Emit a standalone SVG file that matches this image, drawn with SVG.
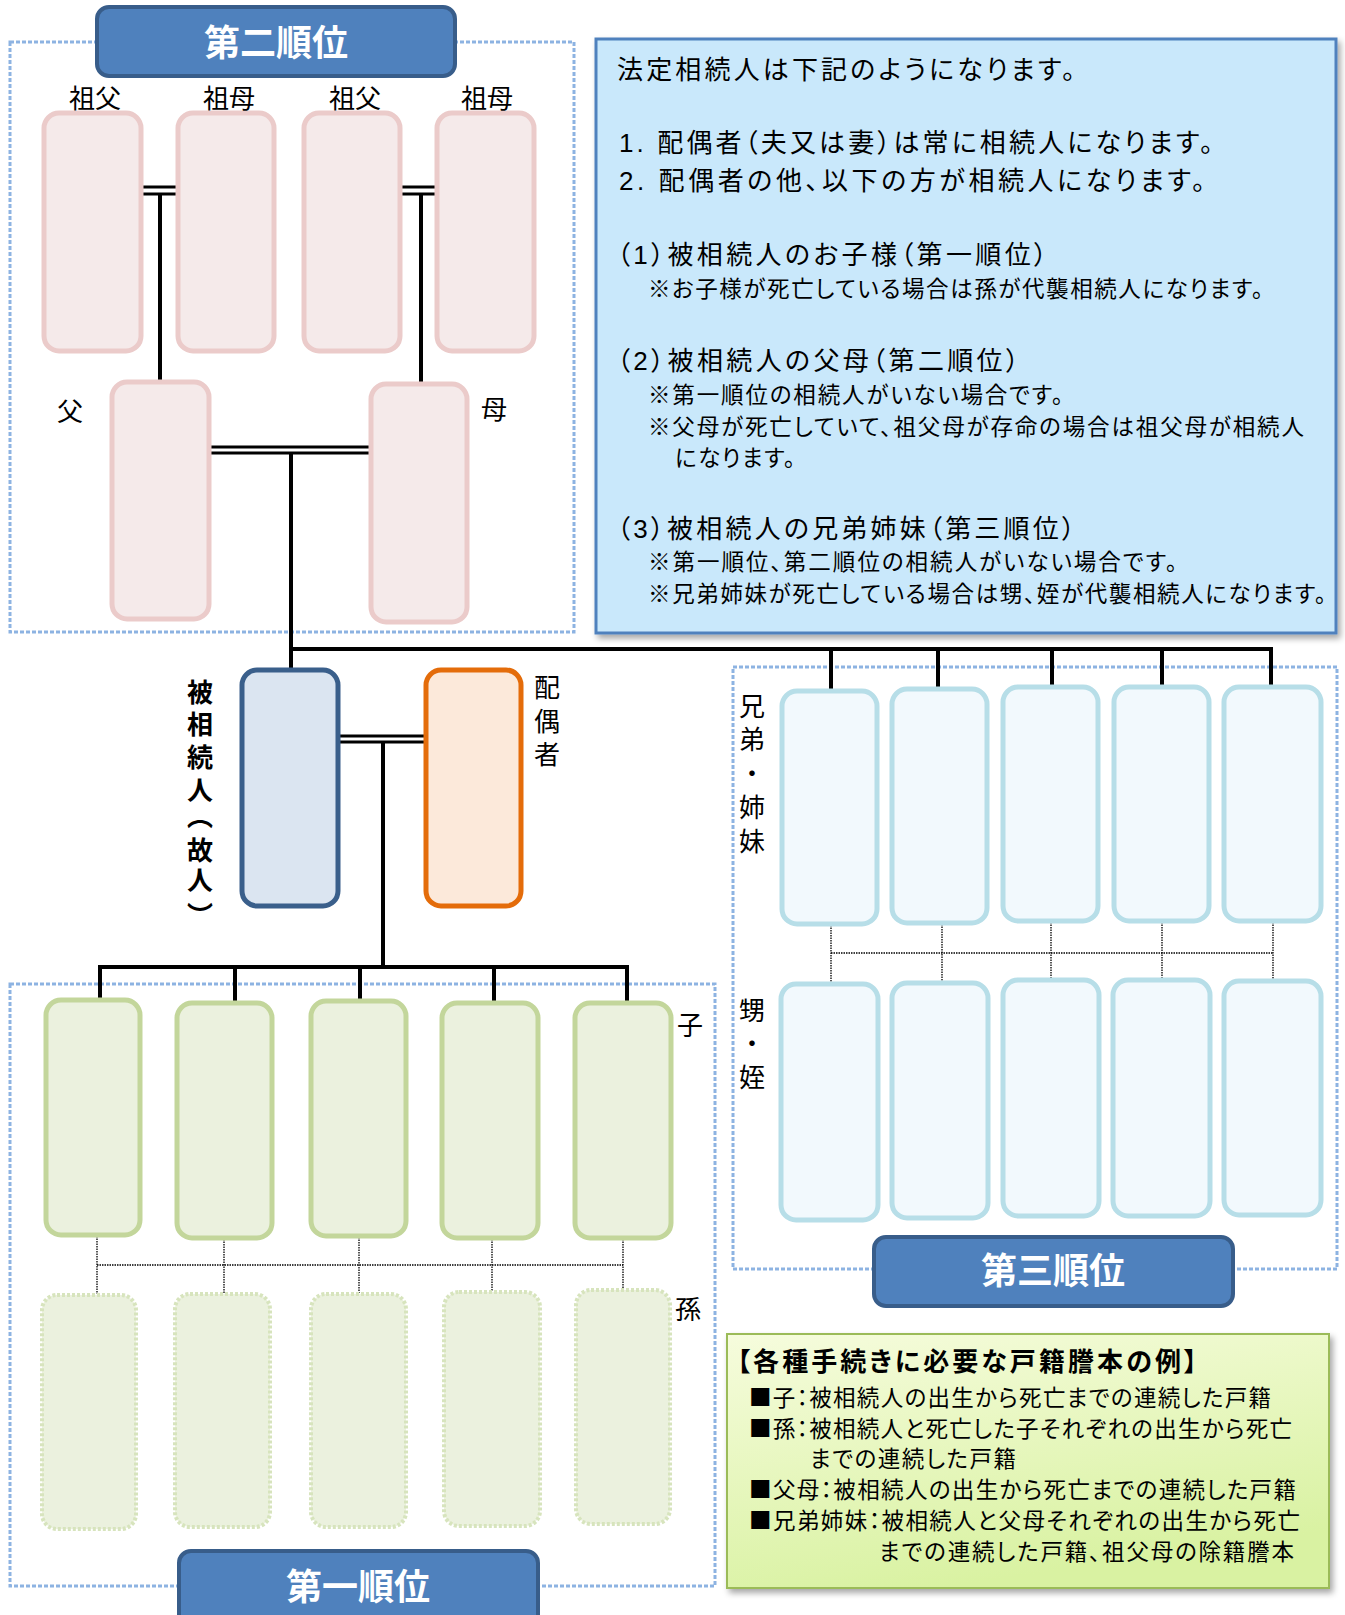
<svg xmlns="http://www.w3.org/2000/svg" width="1345" height="1615" viewBox="0 0 1345 1615">
<defs>
<style>
text{font-family:"Liberation Sans","Noto Sans CJK JP",sans-serif;fill:#000;font-feature-settings:"palt"}
.frame{fill:none;stroke:#8DB3E2;stroke-width:3;stroke-dasharray:4 2}
.banner{fill:#4F81BD;stroke:#385D8A;stroke-width:4}
.bt{fill:#fff;font-size:36px;font-weight:bold;text-anchor:middle;font-family:"Noto Sans CJK JP",sans-serif}
.pink{fill:#F5EAEA;stroke:#EBCBCA;stroke-width:5}
.dec{fill:#DBE5F1;stroke:#3A5F8B;stroke-width:5}
.sp{fill:#FCE9DA;stroke:#E46C0A;stroke-width:5}
.sib{fill:#F2F9FD;stroke:#B7DEE8;stroke-width:5}
.ch{fill:#EBF1DE;stroke:#C3D69B;stroke-width:5}
.gc{fill:#EBF1DE;stroke:#D7E4BD;stroke-width:4;stroke-dasharray:3 2}
.ln{stroke:#000;stroke-width:4;fill:none}
.dl{stroke:#000;stroke-width:3;fill:none}
.dt{stroke:#000;stroke-width:1.3;stroke-dasharray:1.5 1;fill:none}
.lbl{font-size:26px;text-anchor:middle;font-family:"Noto Sans CJK JP",sans-serif;font-feature-settings:normal}
.t1{font-size:26px}
.t2{font-size:22.5px}
.g{font-size:22.5px;font-family:"Noto Sans CJK JP",sans-serif}
</style>
<filter id="sh" x="-5%" y="-5%" width="115%" height="115%">
<feDropShadow dx="3" dy="4" stdDeviation="3" flood-color="#000" flood-opacity="0.35"/>
</filter>
<linearGradient id="gg" x1="0" y1="0" x2="0.35" y2="1">
<stop offset="0" stop-color="#F6FCDD"/>
<stop offset="1" stop-color="#D9F2A2"/>
</linearGradient>
</defs>
<rect width="1345" height="1615" fill="#fff"/>

<g id="frames">
<rect class="frame" x="10" y="42" width="564" height="590"/>
<rect class="frame" x="10" y="984" width="705" height="602"/>
<rect class="frame" x="733" y="667" width="604" height="602"/>
</g>

<g id="connectors">
<line class="dl" x1="141" y1="187" x2="178" y2="187"/>
<line class="dl" x1="141" y1="194" x2="178" y2="194"/>
<line class="ln" x1="160" y1="194" x2="160" y2="382"/>
<line class="dl" x1="400" y1="187" x2="437" y2="187"/>
<line class="dl" x1="400" y1="194" x2="437" y2="194"/>
<line class="ln" x1="421" y1="194" x2="421" y2="384"/>
<line class="dl" x1="209" y1="447" x2="371" y2="447"/>
<line class="dl" x1="209" y1="453" x2="371" y2="453"/>
<line class="ln" x1="291" y1="453" x2="291" y2="669"/>
<path class="ln" d="M291,649 H1271 V688"/>
<line class="ln" x1="831" y1="649" x2="831" y2="690"/>
<line class="ln" x1="938" y1="649" x2="938" y2="688"/>
<line class="ln" x1="1052" y1="649" x2="1052" y2="686"/>
<line class="ln" x1="1162" y1="649" x2="1162" y2="686"/>
<line class="dl" x1="337" y1="736" x2="427" y2="736"/>
<line class="dl" x1="337" y1="742" x2="427" y2="742"/>
<line class="ln" x1="383" y1="742" x2="383" y2="967"/>
<path class="ln" d="M100,999 V967 H627 V1002"/>
<line class="ln" x1="235" y1="967" x2="235" y2="1002"/>
<line class="ln" x1="360" y1="967" x2="360" y2="1000"/>
<line class="ln" x1="494" y1="967" x2="494" y2="1002"/>
<line class="dt" x1="97" y1="1236" x2="97" y2="1294"/>
<line class="dt" x1="224" y1="1239" x2="224" y2="1293"/>
<line class="dt" x1="359" y1="1237" x2="359" y2="1293"/>
<line class="dt" x1="492" y1="1239" x2="492" y2="1291"/>
<line class="dt" x1="623" y1="1239" x2="623" y2="1289"/>
<line class="dt" x1="97" y1="1265" x2="623" y2="1265"/>
<line class="dt" x1="831" y1="925" x2="831" y2="983"/>
<line class="dt" x1="942" y1="924" x2="942" y2="982"/>
<line class="dt" x1="1051" y1="922" x2="1051" y2="979"/>
<line class="dt" x1="1162" y1="922" x2="1162" y2="979"/>
<line class="dt" x1="1273" y1="922" x2="1273" y2="980"/>
<line class="dt" x1="831" y1="953" x2="1273" y2="953"/>
</g>

<g id="banner2"><rect class="banner" x="97" y="7" width="358" height="69" rx="12"/><text class="bt" x="276" y="56">第二順位</text></g>
<g id="banner3"><rect class="banner" x="874" y="1237" width="359" height="69" rx="12"/><text class="bt" x="1053" y="1284">第三順位</text></g>
<g id="banner1"><rect class="banner" x="179" y="1551" width="359" height="80" rx="12"/><text class="bt" x="358" y="1600">第一順位</text></g>

<g id="grandparents">
<rect class="pink" x="44" y="113" width="97" height="238" rx="15"/>
<rect class="pink" x="178" y="113" width="96" height="238" rx="15"/>
<rect class="pink" x="304" y="113" width="96" height="238" rx="15"/>
<rect class="pink" x="437" y="113" width="97" height="238" rx="15"/>
<text class="lbl" x="95" y="108">祖父</text>
<text class="lbl" x="229" y="108">祖母</text>
<text class="lbl" x="355" y="108">祖父</text>
<text class="lbl" x="487" y="108">祖母</text>
</g>
<g id="father"><rect class="pink" x="112" y="382" width="97" height="237" rx="15"/><text class="lbl" x="70" y="421">父</text></g>
<g id="mother"><rect class="pink" x="371" y="384" width="96" height="238" rx="15"/><text class="lbl" x="494" y="419">母</text></g>

<g id="decedent">
<rect class="dec" x="242" y="670" width="96" height="236" rx="15"/>
<text class="lbl" font-weight="bold" x="200 200 200 200 200 200 200 200" y="702 734 767 800 826 860 890 925">被相続人︵故人︶</text>
</g>
<g id="spouse">
<rect class="sp" x="426" y="670" width="95" height="236" rx="15"/>
<text class="lbl" x="547 547 547" y="697 731 764">配偶者</text>
</g>

<g id="siblings">
<rect class="sib" x="782" y="691" width="95" height="233" rx="15"/>
<rect class="sib" x="892" y="689" width="95" height="234" rx="15"/>
<rect class="sib" x="1003" y="687" width="95" height="234" rx="15"/>
<rect class="sib" x="1114" y="687" width="95" height="234" rx="15"/>
<rect class="sib" x="1224" y="687" width="97" height="234" rx="15"/>
<text class="lbl" x="752 752 752 752 752" y="716 749 783 817 851">兄弟・姉妹</text>
</g>
<g id="nephews">
<rect class="sib" x="781" y="984" width="97" height="236" rx="15"/>
<rect class="sib" x="892" y="983" width="96" height="235" rx="15"/>
<rect class="sib" x="1003" y="980" width="96" height="236" rx="15"/>
<rect class="sib" x="1113" y="980" width="97" height="236" rx="15"/>
<rect class="sib" x="1224" y="981" width="97" height="234" rx="15"/>
<text class="lbl" x="752 752 752" y="1020 1053 1087">甥・姪</text>
</g>

<g id="children">
<rect class="ch" x="46" y="1000" width="94" height="235" rx="15"/>
<rect class="ch" x="177" y="1003" width="95" height="235" rx="15"/>
<rect class="ch" x="311" y="1001" width="95" height="235" rx="15"/>
<rect class="ch" x="442" y="1003" width="96" height="235" rx="15"/>
<rect class="ch" x="575" y="1003" width="96" height="235" rx="15"/>
<text class="lbl" x="690" y="1035">子</text>
</g>
<g id="grandchildren">
<rect class="gc" x="42" y="1295" width="94" height="234" rx="15"/>
<rect class="gc" x="175" y="1294" width="95" height="233" rx="15"/>
<rect class="gc" x="311" y="1294" width="95" height="233" rx="15"/>
<rect class="gc" x="444" y="1292" width="96" height="234" rx="15"/>
<rect class="gc" x="576" y="1290" width="94" height="234" rx="15"/>
<text class="lbl" x="688" y="1319">孫</text>
</g>

<g id="info">
<rect x="596" y="39" width="740" height="594" fill="#C9E8FB" stroke="#4F81BD" stroke-width="3" filter="url(#sh)"/>
<text class="t1" x="617" y="79" textLength="458">法定相続人は下記のようになります。</text>
<text class="t1" x="619" y="152" textLength="594">1. 配偶者（夫又は妻）は常に相続人になります。</text>
<text class="t1" x="619" y="190" textLength="586">2. 配偶者の他、以下の方が相続人になります。</text>
<text class="t1" x="617" y="264" textLength="430">（1）被相続人のお子様（第一順位）</text>
<text class="t2" x="648" y="297" textLength="615">※お子様が死亡している場合は孫が代襲相続人になります。</text>
<text class="t1" x="617" y="370" textLength="402">（2）被相続人の父母（第二順位）</text>
<text class="t2" x="648" y="403" textLength="415">※第一順位の相続人がいない場合です。</text>
<text class="t2" x="648" y="435" textLength="656">※父母が死亡していて、祖父母が存命の場合は祖父母が相続人</text>
<text class="t2" x="675" y="466" textLength="120">になります。</text>
<text class="t1" x="617" y="538" textLength="458">（3）被相続人の兄弟姉妹（第三順位）</text>
<text class="t2" x="648" y="570" textLength="529">※第一順位、第二順位の相続人がいない場合です。</text>
<text class="t2" x="648" y="602" textLength="678">※兄弟姉妹が死亡している場合は甥、姪が代襲相続人になります。</text>
</g>

<g id="documents">
<rect x="727" y="1334" width="602" height="254" fill="url(#gg)" stroke="#9BBB59" stroke-width="2" filter="url(#sh)"/>
<text class="t1" x="737" y="1371" font-weight="bold" textLength="460" style="font-family:'Noto Sans CJK JP',sans-serif">【各種手続きに必要な戸籍謄本の例】</text>
<text class="g" x="749" y="1406" textLength="522">■子：被相続人の出生から死亡までの連続した戸籍</text>
<text class="g" x="749" y="1437" textLength="543">■孫：被相続人と死亡した子それぞれの出生から死亡</text>
<text class="g" x="810" y="1467" textLength="206">までの連続した戸籍</text>
<text class="g" x="749" y="1498" textLength="547">■父母：被相続人の出生から死亡までの連続した戸籍</text>
<text class="g" x="749" y="1529" textLength="551">■兄弟姉妹：被相続人と父母それぞれの出生から死亡</text>
<text class="g" x="879" y="1560" textLength="415">までの連続した戸籍、祖父母の除籍謄本</text>
</g>
</svg>
